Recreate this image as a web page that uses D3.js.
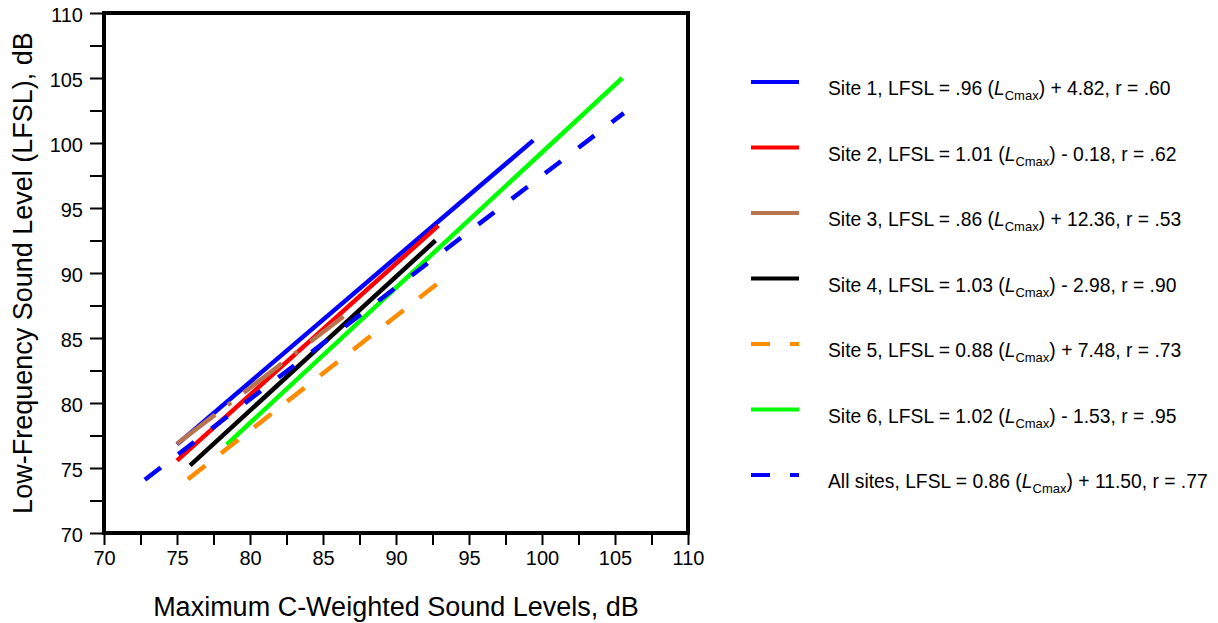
<!DOCTYPE html>
<html>
<head>
<meta charset="utf-8">
<script src="https://cdn.jsdelivr.net/npm/d3@7"></script>
<style>
  html, body { margin: 0; padding: 0; background: #fff; }
  svg { display: block; font-family: "Liberation Sans", Arial, sans-serif; }
</style>
</head>
<body>
<svg id="chart" width="1218" height="623"></svg>
<script>
// Regression lines of low-frequency sound level against maximum C-weighted level
const siteNames = ["Site 1", "Site 2", "Site 3", "Site 4", "Site 5", "Site 6", "All sites"];
const slopeText = [".96", "1.01", ".86", "1.03", "0.88", "1.02", "0.86"];
const interceptText = ["+ 4.82", "- 0.18", "+ 12.36", "- 2.98", "+ 7.48", "- 1.53", "+ 11.50"];
const rText = [".60", ".62", ".53", ".90", ".73", ".95", ".77"];

// Line endpoints (dB)
const xStart = [75.0, 75.0, 75.0, 75.9, 75.75, 78.4, 72.8];
const xEnd   = [99.4, 92.9, 86.4, 92.7, 93.1, 105.5, 105.6];
const yStart = [76.82, 75.57, 76.86, 75.2, 74.14, 76.8, 74.1];
const yEnd   = [100.2, 93.65, 86.66, 92.5, 89.41, 105.0, 102.3];

const lineColors = ["#0000ff", "#ff0000", "#b8734f", "#000000", "#ff8c00", "#00ff00", "#0000ff"];
const plotDash   = [null, null, "48,16,4,16", null, "22,20", null, "20,22"];
const legendDash = [null, null, null, null, "19,20", null, "19,20"];
// drawing order inside the frame
const drawOrder = [0, 1, 3, 5, 4, 2, 6];

const xTicks = [70, 75, 80, 85, 90, 95, 100, 105, 110];
const yTicks = [70, 75, 80, 85, 90, 95, 100, 105, 110];
const minorStep = 2.5;

const svg = d3.select("#chart");
const plotLeft = 104, plotRight = 688, plotTop = 13, plotBottom = 533;

const x = d3.scaleLinear().domain([70, 110]).range([plotLeft, plotRight]);
const y = d3.scaleLinear().domain([70, 110]).range([plotBottom, plotTop]);

const minorVals = d3.range(70, 110.001, minorStep);

// axes (ticks outside the frame)
const xAxis = d3.axisBottom(x).tickValues(minorVals).tickSize(12)
  .tickFormat(d => xTicks.includes(d) ? d : "");
const yAxis = d3.axisLeft(y).tickValues(minorVals).tickSize(14)
  .tickFormat(d => yTicks.includes(d) ? d : "");

const gx = svg.append("g").attr("transform", `translate(0,${plotBottom})`).call(xAxis);
gx.select(".domain").remove();
gx.selectAll(".tick line").attr("stroke", "#000").attr("stroke-width", 2);
gx.selectAll(".tick text").attr("font-size", 20).attr("fill", "#000")
  .attr("font-family", "Liberation Sans, Arial, sans-serif").attr("dy", "0.95em").attr("y", 13);

const gy = svg.append("g").attr("transform", `translate(${plotLeft},0)`).call(yAxis);
gy.select(".domain").remove();
gy.selectAll(".tick line").attr("stroke", "#000").attr("stroke-width", 2);
gy.selectAll(".tick text").attr("font-size", 20).attr("fill", "#000")
  .attr("font-family", "Liberation Sans, Arial, sans-serif").attr("x", -21).attr("dy", "0.4em");

// regression lines
const line = d3.line().x(d => x(d[0])).y(d => y(d[1]));
const gLines = svg.append("g");
drawOrder.forEach(i => {
  const p = gLines.append("path")
    .attr("d", line([[xStart[i], yStart[i]], [xEnd[i], yEnd[i]]]))
    .attr("fill", "none")
    .attr("stroke", lineColors[i])
    .attr("stroke-width", 4.5);
  if (plotDash[i]) p.attr("stroke-dasharray", plotDash[i]);
});

// frame
svg.append("rect")
  .attr("x", plotLeft).attr("y", plotTop)
  .attr("width", plotRight - plotLeft).attr("height", plotBottom - plotTop)
  .attr("fill", "none").attr("stroke", "#000").attr("stroke-width", 4);

// axis titles
svg.append("text")
  .attr("x", (plotLeft + plotRight) / 2).attr("y", 616)
  .attr("text-anchor", "middle").attr("font-size", 27).attr("fill", "#000")
  .text("Maximum C-Weighted Sound Levels, dB");

svg.append("text")
  .attr("transform", `translate(32,${(plotTop + plotBottom) / 2}) rotate(-90)`)
  .attr("text-anchor", "middle").attr("font-size", 27).attr("fill", "#000")
  .text("Low-Frequency Sound Level (LFSL), dB");

// legend
const legendY = d3.scaleLinear().domain([0, 6]).range([82, 475]);
const gLeg = svg.append("g");
siteNames.forEach((name, i) => {
  const ly = legendY(i);
  const l = gLeg.append("line")
    .attr("x1", 751).attr("x2", 799).attr("y1", ly).attr("y2", ly)
    .attr("stroke", lineColors[i]).attr("stroke-width", 4);
  if (legendDash[i]) l.attr("stroke-dasharray", legendDash[i]);

  const t = gLeg.append("text")
    .attr("x", 828).attr("y", ly + 13)
    .attr("font-size", 19.3).attr("fill", "#000");
  t.append("tspan").text(`${name}, LFSL = ${slopeText[i]} (`);
  t.append("tspan").attr("font-style", "italic").text("L");
  t.append("tspan").attr("font-size", 13).attr("dy", 5).text("Cmax");
  t.append("tspan").attr("dy", -5).text(`) ${interceptText[i]}, r = ${rText[i]}`);
});
</script>
</body>
</html>
